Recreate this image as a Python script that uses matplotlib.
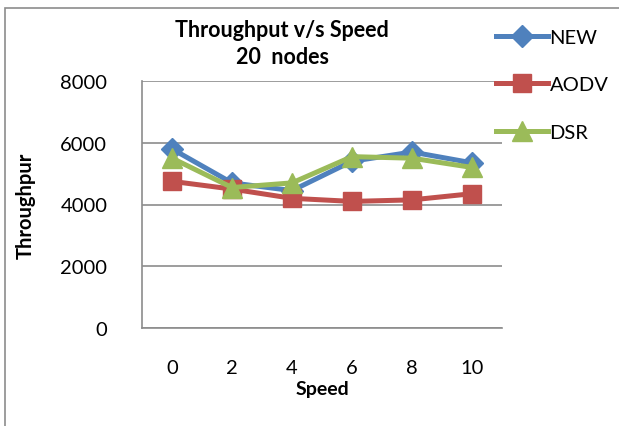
import matplotlib
matplotlib.use("Agg")
import matplotlib.pyplot as plt
from matplotlib.patches import Rectangle

# values
speeds = ["0", "2", "4", "6", "8", "10"]
new_tp = [5800, 4700, 4450, 5400, 5700, 5350]
aodv_tp = [4750, 4500, 4200, 4100, 4150, 4350]
dsr_tp = [5500, 4550, 4700, 5550, 5500, 5200]
y_ticks = [0, 2000, 4000, 6000, 8000]

W, H = 619, 427
plt.rcParams['font.family'] = ['Lato', 'DejaVu Sans']

fig = plt.figure(figsize=(W / 100, H / 100), dpi=100)

# chart frame (cut off at right and bottom like the reference)
fig.patches.append(Rectangle((5 / W, -0.1), 1.2, 1 - 9 / H + 0.1,
                             transform=fig.transFigure, fill=False,
                             edgecolor='#8c8c8c', linewidth=1.2))

ax = fig.add_axes([142 / W, 1 - 329 / H, 360 / W, 247 / H])

x = list(range(len(speeds)))
ax.plot(x, new_tp, color='#4F81BD', lw=3.6, marker='D', ms=11, label='NEW')
ax.plot(x, aodv_tp, color='#C0504D', lw=3.6, marker='s', ms=13, label='AODV')
ax.plot(x, dsr_tp, color='#9BBB59', lw=3.6, marker='^', ms=14, label='DSR')

ax.set_xlim(-0.5, len(speeds) - 0.5)
ax.set_ylim(0, 8000)
ax.set_xticks(x)
ax.set_xticklabels(speeds)
ax.set_yticks(y_ticks)
ax.yaxis.grid(True, color='#8c8c8c', lw=1.2)
ax.set_axisbelow(True)
ax.tick_params(length=0, labelsize=14.5, pad=22)
ax.tick_params(axis='y', pad=25)
for s in ['top', 'right']:
    ax.spines[s].set_visible(False)
for s in ['left', 'bottom']:
    ax.spines[s].set_color('#8c8c8c')
    ax.spines[s].set_linewidth(1.2)

ax.set_xlabel('Speed', fontsize=14, fontweight='bold', labelpad=3)
ax.set_ylabel('Throughpur', fontsize=14.5, fontweight='bold', labelpad=18)

fig.text(282 / W, 1 - 44 / H, 'Throughput v/s Speed\n20  nodes', ha='center',
         va='center', fontsize=15.5, fontweight='bold', linespacing=1.4)

fig.legend(loc='upper left', bbox_to_anchor=(486 / W, 1 - 20 / H),
           frameon=False, fontsize=14.5, handlelength=2.6, handletextpad=0.05,
           labelspacing=1.5, borderpad=0)

fig.savefig('out.png', dpi=100)
